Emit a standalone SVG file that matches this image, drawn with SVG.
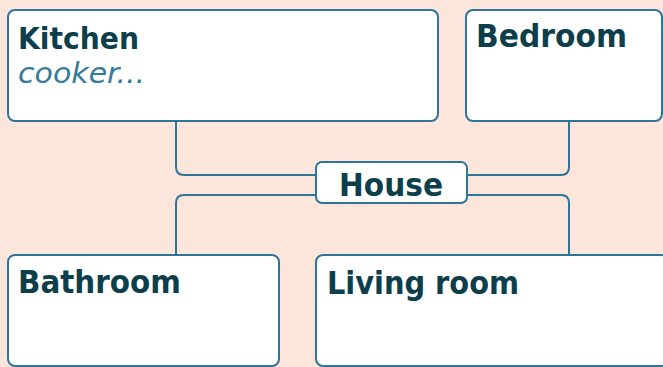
<svg xmlns="http://www.w3.org/2000/svg" width="663" height="367" viewBox="0 0 663 367">
<style>
.box{fill:#ffffff;stroke:#2f7598;stroke-width:2}
.con{fill:none;stroke:#2f7598;stroke-width:2}
.t{font-family:"DejaVu Sans Condensed","DejaVu Sans",sans-serif;font-stretch:condensed;font-weight:bold;font-size:32px;fill:#0c3f4b}
.s{font-family:"DejaVu Sans Condensed","DejaVu Sans",sans-serif;font-stretch:condensed;font-style:italic;font-size:28px;fill:#367a9a}
</style>
<rect width="663" height="367" fill="#fce5db"/>
<g id="connectors">
<path class="con" d="M176,121 V167 Q176,175 184,175 H316"/>
<path class="con" d="M569,121 V167 Q569,175 561,175 H467"/>
<path class="con" d="M316,195 H184 Q176,195 176,203 V255"/>
<path class="con" d="M467,195 H561 Q569,195 569,203 V255"/>
</g>
<g id="kitchen">
<rect class="box" x="8" y="10" width="430" height="111" rx="7"/>
<text class="t" x="18" y="49" style="font-size:30px" textLength="121" lengthAdjust="spacingAndGlyphs">Kitchen</text>
<text class="s" x="18" y="82.5" textLength="127" lengthAdjust="spacingAndGlyphs">cooker...</text>
</g>
<g id="bedroom">
<rect class="box" x="466" y="10" width="196" height="111" rx="7"/>
<text class="t" x="476" y="47" textLength="151" lengthAdjust="spacingAndGlyphs">Bedroom</text>
</g>
<g id="house">
<rect class="box" x="316" y="162" width="151" height="41" rx="6"/>
<text class="t" x="339" y="196" textLength="104" lengthAdjust="spacingAndGlyphs">House</text>
</g>
<g id="bathroom">
<rect class="box" x="8" y="255" width="271" height="111" rx="7"/>
<text class="t" x="18" y="293" textLength="163" lengthAdjust="spacingAndGlyphs">Bathroom</text>
</g>
<g id="livingroom">
<rect class="box" x="316" y="255" width="352" height="111" rx="7"/>
<text class="t" x="327" y="294" textLength="192" lengthAdjust="spacingAndGlyphs">Living room</text>
</g>
</svg>
